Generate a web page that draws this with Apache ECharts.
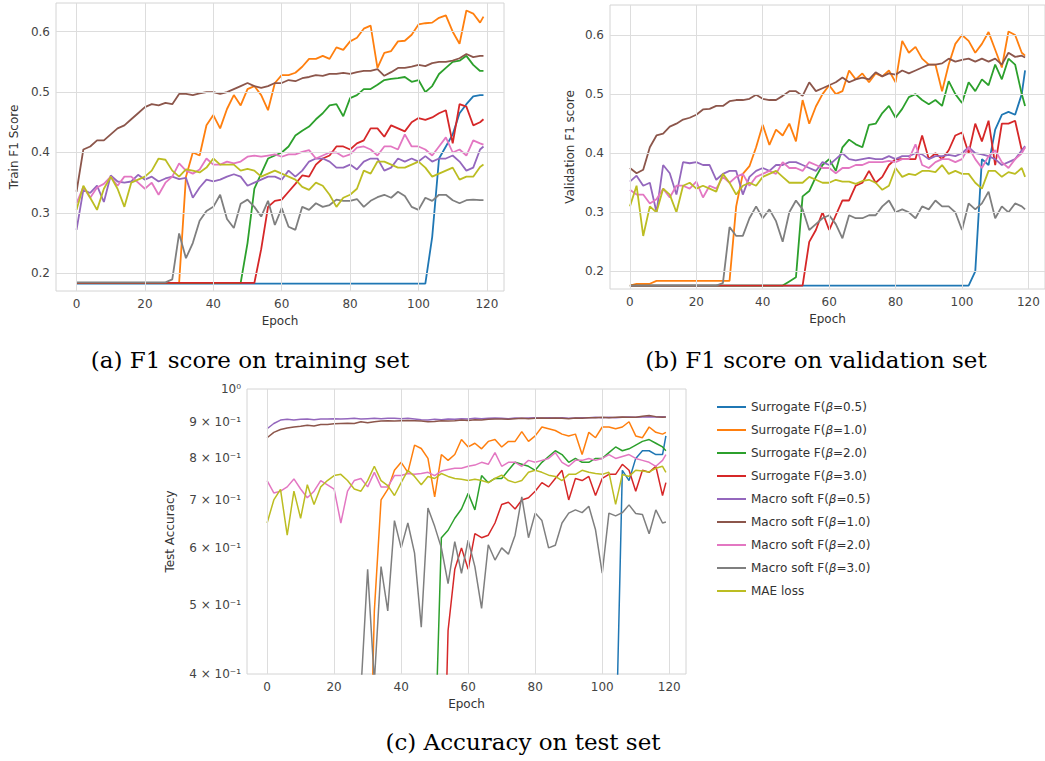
<!DOCTYPE html>
<html>
<head>
<meta charset="utf-8">
<script src="https://cdn.jsdelivr.net/npm/echarts@6/dist/echarts.min.js"></script>
<style>
  html, body { margin: 0; padding: 0; background: #fff; }
  #main { width: 1045px; height: 761px; }
</style>
</head>
<body>
<div id="main"></div>
<script>
// epochs sampled from the figure (every 2nd epoch + last)
const epochs = [0,2,4,6,8,10,12,14,16,18, 20,22,24,26,28,30,32,34,36,38,
  40,42,44,46,48,50,52,54,56,58, 60,62,64,66,68,70,72,74,76,78,
  80,82,84,86,88,90,92,94,96,98, 100,102,104,106,108,110,112,114,116,118, 119];

// (a) train F1
const trainSur05 = [
  0.183,0.183,0.183,0.183,0.183,0.183,0.183,0.183,0.183,0.183,
  0.183,0.183,0.183,0.183,0.183,0.183,0.183,0.183,0.183,0.183,
  0.183,0.183,0.183,0.183,0.183,0.183,0.183,0.183,0.183,0.183,
  0.183,0.183,0.183,0.183,0.183,0.183,0.183,0.183,0.183,0.183,
  0.183,0.183,0.183,0.183,0.183,0.183,0.183,0.183,0.183,0.183,
  0.183,0.183,0.26,0.39,0.41,0.43,0.465,0.48,0.493,0.495,
  0.495];
const trainSur10 = [
  0.184,0.184,0.184,0.184,0.184,0.184,0.184,0.184,0.184,0.184,
  0.184,0.184,0.184,0.184,0.184,0.184,0.36,0.40,0.395,0.445,
  0.462,0.44,0.472,0.495,0.478,0.505,0.51,0.495,0.47,0.515,
  0.528,0.528,0.532,0.542,0.555,0.555,0.56,0.555,0.574,0.57,
  0.584,0.59,0.605,0.61,0.54,0.565,0.568,0.584,0.585,0.595,
  0.612,0.614,0.615,0.623,0.627,0.6,0.58,0.635,0.63,0.615,
  0.625];
const trainSur20 = [
  0.184,0.184,0.184,0.184,0.184,0.184,0.184,0.184,0.184,0.184,
  0.184,0.184,0.184,0.184,0.184,0.184,0.184,0.184,0.184,0.184,
  0.184,0.184,0.184,0.184,0.184,0.25,0.34,0.365,0.39,0.395,
  0.4,0.41,0.428,0.436,0.443,0.455,0.465,0.478,0.48,0.46,
  0.49,0.495,0.505,0.505,0.512,0.52,0.522,0.523,0.525,0.517,
  0.52,0.5,0.51,0.53,0.54,0.55,0.552,0.56,0.545,0.535,
  0.535];
const trainSur30 = [
  0.184,0.184,0.184,0.184,0.184,0.184,0.184,0.184,0.184,0.184,
  0.184,0.184,0.184,0.184,0.184,0.184,0.184,0.184,0.184,0.184,
  0.184,0.184,0.184,0.184,0.184,0.184,0.184,0.24,0.31,0.32,
  0.322,0.335,0.348,0.362,0.36,0.38,0.39,0.395,0.41,0.41,
  0.405,0.415,0.42,0.44,0.44,0.426,0.445,0.44,0.435,0.45,
  0.457,0.454,0.458,0.465,0.47,0.415,0.48,0.476,0.445,0.45,
  0.455];
const trainMac05 = [
  0.272,0.338,0.333,0.345,0.318,0.362,0.352,0.35,0.352,0.363,
  0.355,0.36,0.352,0.357,0.36,0.356,0.358,0.325,0.342,0.355,
  0.352,0.355,0.36,0.364,0.36,0.345,0.35,0.355,0.36,0.36,
  0.355,0.37,0.36,0.37,0.385,0.39,0.39,0.385,0.375,0.375,
  0.38,0.372,0.385,0.39,0.39,0.37,0.375,0.39,0.385,0.39,
  0.385,0.394,0.385,0.39,0.39,0.395,0.385,0.37,0.375,0.405,
  0.41];
const trainMac10 = [
  0.335,0.405,0.41,0.42,0.42,0.43,0.44,0.445,0.455,0.465,
  0.475,0.48,0.478,0.482,0.48,0.497,0.497,0.495,0.498,0.5,
  0.5,0.497,0.5,0.505,0.51,0.515,0.51,0.507,0.51,0.515,
  0.515,0.52,0.518,0.523,0.525,0.528,0.527,0.53,0.53,0.532,
  0.53,0.533,0.535,0.535,0.538,0.527,0.533,0.54,0.54,0.542,
  0.545,0.543,0.548,0.55,0.55,0.552,0.556,0.563,0.558,0.56,
  0.56];
const trainMac20 = [
  0.316,0.343,0.325,0.342,0.348,0.36,0.345,0.36,0.36,0.35,
  0.34,0.35,0.33,0.35,0.36,0.382,0.37,0.365,0.372,0.39,
  0.38,0.38,0.385,0.382,0.385,0.393,0.395,0.393,0.395,0.397,
  0.393,0.397,0.397,0.401,0.404,0.39,0.395,0.4,0.4,0.393,
  0.397,0.408,0.41,0.405,0.395,0.41,0.41,0.405,0.43,0.41,
  0.41,0.405,0.395,0.41,0.425,0.4,0.405,0.395,0.42,0.415,
  0.413];
const trainMac30 = [
  0.185,0.185,0.185,0.185,0.185,0.185,0.185,0.185,0.185,0.185,
  0.185,0.185,0.185,0.185,0.19,0.266,0.225,0.25,0.287,0.303,
  0.31,0.33,0.29,0.275,0.315,0.322,0.31,0.294,0.32,0.28,
  0.308,0.277,0.272,0.31,0.305,0.316,0.31,0.313,0.322,0.32,
  0.32,0.323,0.31,0.32,0.326,0.33,0.325,0.335,0.328,0.31,
  0.305,0.325,0.32,0.33,0.33,0.321,0.316,0.321,0.322,0.321,
  0.321];
const trainMae = [
  0.305,0.345,0.325,0.305,0.34,0.36,0.34,0.31,0.35,0.355,
  0.36,0.37,0.39,0.388,0.37,0.36,0.372,0.37,0.367,0.375,
  0.39,0.38,0.38,0.38,0.37,0.373,0.37,0.36,0.365,0.37,
  0.365,0.36,0.355,0.343,0.338,0.35,0.345,0.33,0.31,0.325,
  0.33,0.34,0.37,0.365,0.385,0.385,0.38,0.375,0.375,0.38,
  0.385,0.375,0.36,0.365,0.37,0.375,0.355,0.36,0.36,0.376,
  0.38];

// (b) validation F1
const valSur05 = [
  0.176,0.176,0.176,0.176,0.176,0.176,0.176,0.176,0.176,0.176,
  0.176,0.176,0.176,0.176,0.176,0.176,0.176,0.176,0.176,0.176,
  0.176,0.176,0.176,0.176,0.176,0.176,0.176,0.176,0.176,0.176,
  0.176,0.176,0.176,0.176,0.176,0.176,0.176,0.176,0.176,0.176,
  0.176,0.176,0.176,0.176,0.176,0.176,0.176,0.176,0.176,0.176,
  0.176,0.176,0.2,0.39,0.38,0.44,0.465,0.47,0.465,0.5,
  0.54];
const valSur10 = [
  0.176,0.179,0.179,0.179,0.184,0.184,0.184,0.184,0.184,0.184,
  0.184,0.184,0.184,0.184,0.184,0.184,0.31,0.365,0.378,0.41,
  0.448,0.414,0.44,0.43,0.45,0.42,0.49,0.45,0.479,0.5,
  0.515,0.5,0.505,0.54,0.525,0.535,0.52,0.535,0.53,0.54,
  0.52,0.59,0.57,0.58,0.56,0.55,0.55,0.505,0.55,0.585,
  0.6,0.59,0.57,0.585,0.605,0.575,0.545,0.606,0.6,0.57,
  0.565];
const valSur20 = [
  0.176,0.176,0.176,0.176,0.176,0.176,0.176,0.176,0.176,0.176,
  0.176,0.176,0.176,0.176,0.176,0.176,0.176,0.176,0.176,0.176,
  0.176,0.176,0.176,0.176,0.183,0.19,0.327,0.336,0.36,0.38,
  0.39,0.37,0.41,0.423,0.415,0.41,0.448,0.45,0.468,0.48,
  0.46,0.475,0.495,0.5,0.49,0.483,0.49,0.48,0.522,0.5,
  0.485,0.52,0.505,0.525,0.515,0.55,0.525,0.56,0.55,0.5,
  0.48];
const valSur30 = [
  0.176,0.176,0.176,0.176,0.176,0.176,0.176,0.176,0.176,0.176,
  0.176,0.176,0.176,0.176,0.176,0.176,0.176,0.176,0.176,0.176,
  0.176,0.176,0.176,0.176,0.176,0.176,0.176,0.25,0.27,0.3,
  0.27,0.295,0.32,0.32,0.345,0.35,0.37,0.35,0.36,0.38,
  0.39,0.39,0.39,0.39,0.43,0.39,0.4,0.39,0.405,0.43,
  0.435,0.4,0.45,0.42,0.455,0.38,0.45,0.45,0.455,0.405,
  0.41];
const valMac05 = [
  0.352,0.362,0.345,0.35,0.3,0.38,0.366,0.33,0.385,0.383,
  0.385,0.38,0.38,0.355,0.365,0.37,0.37,0.33,0.36,0.37,
  0.375,0.37,0.38,0.38,0.385,0.385,0.38,0.375,0.37,0.385,
  0.38,0.39,0.4,0.39,0.388,0.39,0.392,0.39,0.39,0.395,
  0.39,0.395,0.395,0.4,0.398,0.39,0.395,0.395,0.397,0.395,
  0.4,0.41,0.4,0.398,0.395,0.39,0.38,0.385,0.39,0.405,
  0.412];
const valMac10 = [
  0.375,0.366,0.372,0.41,0.43,0.433,0.445,0.45,0.457,0.46,
  0.465,0.474,0.475,0.48,0.48,0.488,0.49,0.49,0.492,0.499,
  0.492,0.49,0.49,0.497,0.505,0.505,0.497,0.52,0.505,0.51,
  0.515,0.52,0.528,0.52,0.525,0.528,0.525,0.537,0.53,0.535,
  0.533,0.54,0.535,0.54,0.545,0.55,0.55,0.552,0.56,0.555,
  0.558,0.56,0.555,0.56,0.555,0.56,0.55,0.57,0.563,0.565,
  0.562];
const valMac20 = [
  0.338,0.33,0.33,0.315,0.322,0.34,0.325,0.345,0.345,0.34,
  0.352,0.325,0.345,0.34,0.36,0.35,0.36,0.365,0.345,0.36,
  0.365,0.37,0.365,0.385,0.375,0.375,0.37,0.385,0.38,0.375,
  0.375,0.366,0.375,0.375,0.38,0.38,0.385,0.385,0.385,0.387,
  0.385,0.39,0.39,0.415,0.38,0.375,0.385,0.39,0.39,0.385,
  0.39,0.41,0.39,0.375,0.395,0.405,0.385,0.375,0.39,0.4,
  0.41];
const valMac30 = [
  0.176,0.176,0.176,0.176,0.176,0.176,0.176,0.176,0.176,0.176,
  0.176,0.176,0.176,0.176,0.18,0.275,0.26,0.26,0.29,0.31,
  0.29,0.305,0.285,0.25,0.3,0.32,0.305,0.27,0.28,0.29,
  0.295,0.28,0.256,0.295,0.29,0.29,0.295,0.295,0.31,0.32,
  0.3,0.305,0.3,0.29,0.31,0.305,0.32,0.31,0.31,0.3,
  0.27,0.315,0.305,0.315,0.335,0.29,0.31,0.3,0.315,0.31,
  0.305];
const valMae = [
  0.31,0.345,0.26,0.31,0.3,0.34,0.33,0.3,0.345,0.35,
  0.34,0.345,0.34,0.335,0.365,0.35,0.33,0.345,0.35,0.345,
  0.36,0.365,0.37,0.36,0.35,0.35,0.35,0.36,0.355,0.35,
  0.35,0.355,0.352,0.352,0.348,0.353,0.355,0.35,0.338,0.345,
  0.375,0.36,0.365,0.363,0.37,0.37,0.368,0.38,0.365,0.37,
  0.365,0.365,0.35,0.34,0.37,0.37,0.36,0.368,0.365,0.375,
  0.36];

// (c) test accuracy (values under 0.4 fall below the visible axis)
const testSur05 = [
  0.3,0.3,0.3,0.3,0.3,0.3,0.3,0.3,0.3,0.3,
  0.3,0.3,0.3,0.3,0.3,0.3,0.3,0.3,0.3,0.3,
  0.3,0.3,0.3,0.3,0.3,0.3,0.3,0.3,0.3,0.3,
  0.3,0.3,0.3,0.3,0.3,0.3,0.3,0.3,0.3,0.3,
  0.3,0.3,0.3,0.3,0.3,0.3,0.3,0.3,0.3,0.3,
  0.3,0.3,0.3,0.77,0.745,0.8,0.82,0.82,0.81,0.81,
  0.86];
const testSur10 = [
  0.2,0.2,0.2,0.2,0.2,0.2,0.2,0.2,0.2,0.2,
  0.2,0.2,0.2,0.2,0.2,0.2,0.49,0.7,0.724,0.77,
  0.79,0.765,0.835,0.826,0.8,0.707,0.81,0.795,0.81,0.85,
  0.83,0.84,0.825,0.845,0.85,0.83,0.845,0.845,0.872,0.845,
  0.86,0.885,0.88,0.875,0.865,0.86,0.865,0.81,0.87,0.855,
  0.885,0.885,0.88,0.885,0.9,0.86,0.855,0.885,0.87,0.865,
  0.87];
const testSur20 = [
  0.3,0.3,0.3,0.3,0.3,0.3,0.3,0.3,0.3,0.3,
  0.3,0.3,0.3,0.3,0.3,0.3,0.3,0.3,0.3,0.3,
  0.3,0.3,0.3,0.3,0.3,0.3,0.62,0.635,0.66,0.68,
  0.715,0.678,0.757,0.74,0.75,0.75,0.77,0.79,0.785,0.78,
  0.77,0.79,0.805,0.82,0.81,0.79,0.8,0.79,0.79,0.8,
  0.8,0.815,0.83,0.82,0.825,0.835,0.845,0.85,0.84,0.83,
  0.82];
const testSur30 = [
  0.2,0.2,0.2,0.2,0.2,0.2,0.2,0.2,0.2,0.2,
  0.2,0.2,0.2,0.2,0.2,0.2,0.2,0.2,0.2,0.2,
  0.2,0.2,0.2,0.2,0.2,0.2,0.2,0.46,0.56,0.6,
  0.56,0.628,0.62,0.625,0.65,0.69,0.695,0.68,0.7,0.705,
  0.72,0.74,0.73,0.75,0.77,0.7,0.75,0.745,0.755,0.71,
  0.75,0.76,0.76,0.785,0.77,0.72,0.77,0.765,0.78,0.71,
  0.74];
const testMac05 = [
  0.88,0.895,0.905,0.907,0.905,0.907,0.908,0.906,0.908,0.908,
  0.909,0.908,0.909,0.91,0.908,0.909,0.91,0.909,0.91,0.91,
  0.909,0.91,0.908,0.906,0.905,0.907,0.906,0.908,0.907,0.909,
  0.908,0.91,0.909,0.91,0.911,0.91,0.909,0.911,0.91,0.911,
  0.912,0.911,0.912,0.911,0.912,0.91,0.911,0.912,0.912,0.913,
  0.912,0.913,0.912,0.913,0.914,0.913,0.914,0.915,0.914,0.915,
  0.914];
const testMac10 = [
  0.855,0.87,0.878,0.882,0.885,0.887,0.89,0.888,0.892,0.892,
  0.894,0.895,0.896,0.895,0.9,0.897,0.9,0.902,0.903,0.902,
  0.903,0.904,0.903,0.902,0.9,0.901,0.903,0.902,0.903,0.905,
  0.904,0.906,0.905,0.907,0.908,0.908,0.907,0.909,0.91,0.909,
  0.91,0.911,0.91,0.911,0.91,0.909,0.911,0.91,0.912,0.912,
  0.913,0.912,0.913,0.914,0.913,0.913,0.916,0.918,0.915,0.913,
  0.914];
const testMac20 = [
  0.745,0.716,0.72,0.73,0.749,0.725,0.705,0.72,0.745,0.735,
  0.725,0.65,0.72,0.745,0.75,0.73,0.765,0.73,0.73,0.757,
  0.757,0.762,0.76,0.762,0.765,0.757,0.768,0.772,0.775,0.775,
  0.78,0.783,0.79,0.785,0.815,0.78,0.79,0.79,0.78,0.795,
  0.79,0.795,0.8,0.815,0.79,0.78,0.795,0.795,0.8,0.795,
  0.8,0.81,0.8,0.805,0.81,0.8,0.795,0.79,0.78,0.795,
  0.81];
const testMac30 = [
  0.3,0.3,0.3,0.3,0.3,0.3,0.3,0.3,0.3,0.3,
  0.3,0.3,0.3,0.3,0.38,0.56,0.39,0.565,0.49,0.655,
  0.6,0.65,0.59,0.465,0.682,0.643,0.6,0.535,0.612,0.553,
  0.615,0.565,0.494,0.606,0.577,0.6,0.588,0.625,0.707,0.62,
  0.671,0.655,0.6,0.605,0.65,0.671,0.678,0.672,0.686,0.636,
  0.553,0.671,0.665,0.672,0.689,0.67,0.668,0.628,0.678,0.65,
  0.652];
const testMae = [
  0.65,0.7,0.724,0.625,0.72,0.66,0.735,0.69,0.73,0.745,
  0.757,0.76,0.745,0.725,0.72,0.745,0.78,0.745,0.733,0.71,
  0.74,0.77,0.755,0.735,0.755,0.75,0.762,0.755,0.75,0.748,
  0.745,0.748,0.745,0.74,0.75,0.758,0.745,0.74,0.745,0.765,
  0.77,0.765,0.758,0.755,0.745,0.76,0.76,0.77,0.765,0.762,
  0.76,0.765,0.69,0.76,0.755,0.77,0.768,0.766,0.775,0.78,
  0.765];

const seriesNames = [
  "Surrogate F(β=0.5)", "Surrogate F(β=1.0)", "Surrogate F(β=2.0)", "Surrogate F(β=3.0)",
  "Macro soft F(β=0.5)", "Macro soft F(β=1.0)", "Macro soft F(β=2.0)", "Macro soft F(β=3.0)",
  "MAE loss"
];
const xTicks = [0, 20, 40, 60, 80, 100, 120];
const f1Ticks = [0.2, 0.3, 0.4, 0.5, 0.6];
const accTicks = [0.4, 0.5, 0.6, 0.7, 0.8, 0.9, 1.0];

const trainSets = [trainSur05, trainSur10, trainSur20, trainSur30, trainMac05, trainMac10, trainMac20, trainMac30, trainMae];
const valSets = [valSur05, valSur10, valSur20, valSur30, valMac05, valMac10, valMac20, valMac30, valMae];
const testSets = [testSur05, testSur10, testSur20, testSur30, testMac05, testMac10, testMac20, testMac30, testMae];

// tab10 colours
const colors = ["#1f77b4", "#ff7f0e", "#2ca02c", "#d62728", "#9467bd", "#8c564b", "#e377c2", "#7f7f7f", "#bcbd22"];
const FONT = "DejaVu Sans";
const gridColor = "#dddddd";

function xAxisFor(gridIndex) {
  return {
    type: "value", gridIndex: gridIndex, min: -6, max: 125,
    name: "Epoch", nameLocation: "middle", nameGap: 24,
    nameTextStyle: { fontFamily: FONT, fontSize: 12, color: "#333" },
    axisLine: { show: false }, axisTick: { show: false }, splitLine: { show: false },
    axisLabel: { customValues: xTicks, fontFamily: FONT, fontSize: 12, color: "#444", margin: 7 }
  };
}

function f1Axis(gridIndex, name, min, max, gap) {
  return {
    type: "value", gridIndex: gridIndex, min: min, max: max,
    name: name, nameLocation: "middle", nameGap: gap,
    nameTextStyle: { fontFamily: FONT, fontSize: 12, color: "#333" },
    axisLine: { show: false }, axisTick: { show: false }, splitLine: { show: false },
    axisLabel: {
      customValues: f1Ticks, fontFamily: FONT, fontSize: 12, color: "#444", margin: 6,
      formatter: (v) => v.toFixed(1)
    }
  };
}

// grid lines drawn as markLines (axis min is not a tick)
function gridLines(idx, xs, ys, yStub) {
  return {
    type: "line", xAxisIndex: idx, yAxisIndex: idx, data: [[-100, yStub]],
    silent: true, z: 1, symbol: "none", lineStyle: { opacity: 0 },
    markLine: {
      silent: true, symbol: "none", animation: false, label: { show: false },
      lineStyle: { color: gridColor, width: 1, type: "solid" },
      emphasis: { disabled: true },
      data: xs.map((v) => ({ xAxis: v })).concat(ys.map((v) => ({ yAxis: v })))
    }
  };
}

function lines(idx, sets, width) {
  return sets.map((arr, i) => ({
    name: seriesNames[i], type: "line", xAxisIndex: idx, yAxisIndex: idx,
    data: epochs.map((e, j) => [e, arr[j]]),
    symbol: "none", z: 2, clip: true,
    lineStyle: { color: colors[i], width: width },
    itemStyle: { color: colors[i] },
    emphasis: { disabled: true }
  }));
}

const chart = echarts.init(document.getElementById("main"), null, { renderer: "svg" });
chart.setOption({
  animation: false,
  backgroundColor: "#fff",
  grid: [
    { left: 56, top: 3, width: 448, height: 288, show: true, borderColor: "#d4d4d4", borderWidth: 1 },
    { left: 610, top: 5, width: 438, height: 284, show: true, borderColor: "#d4d4d4", borderWidth: 1 },
    { left: 247, top: 389, width: 439, height: 285, show: true, borderColor: "#d4d4d4", borderWidth: 1 }
  ],
  xAxis: [xAxisFor(0), xAxisFor(1), xAxisFor(2)],
  yAxis: [
    f1Axis(0, "Train F1 Score", 0.1707, 0.6475, 36),
    f1Axis(1, "Validation F1 score", 0.1702, 0.6508, 34),
    {
      type: "log", logBase: 10, gridIndex: 2, min: 0.4, max: 1,
      name: "Test Accuracy", nameLocation: "middle", nameGap: 71,
      nameTextStyle: { fontFamily: FONT, fontSize: 12, color: "#333" },
      axisLine: { show: false }, axisTick: { show: false }, splitLine: { show: false },
      minorTick: { show: false }, minorSplitLine: { show: false },
      axisLabel: {
        customValues: accTicks, fontFamily: FONT, fontSize: 12, color: "#444", margin: 6,
        formatter: (v) => (Math.round(v * 10) >= 10 ? "10⁰" : Math.round(v * 10) + " × 10⁻¹")
      }
    }
  ],
  legend: {
    data: seriesNames, orient: "vertical", left: 716, top: 401, padding: 0,
    itemWidth: 29, itemHeight: 14, itemGap: 11,
    itemStyle: { opacity: 0 },
    lineStyle: { width: 2 },
    textStyle: {
      fontFamily: FONT, fontSize: 12, color: "#333",
      rich: { i: { fontFamily: FONT, fontSize: 12, fontStyle: "italic", color: "#333" } }
    },
    formatter: (name) => name.replace("β", "{i|β}")
  },
  graphic: [
    { type: "text", x: 250, y: 360, style: { text: "(a) F1 score on training set", font: '23px "DejaVu Serif"', fill: "#000", align: "center", verticalAlign: "middle" } },
    { type: "text", x: 816, y: 360, style: { text: "(b) F1 score on validation set", font: '23px "DejaVu Serif"', fill: "#000", align: "center", verticalAlign: "middle" } },
    { type: "text", x: 523, y: 742, style: { text: "(c) Accuracy on test set", font: '23px "DejaVu Serif"', fill: "#000", align: "center", verticalAlign: "middle" } }
  ],
  series: [
    gridLines(0, xTicks, f1Ticks, 0.3),
    gridLines(1, xTicks, f1Ticks, 0.3),
    gridLines(2, xTicks, [], 0.5)
  ].concat(lines(0, trainSets, 1.8), lines(1, valSets, 1.8), lines(2, testSets, 1.5))
});
</script>
</body>
</html>
